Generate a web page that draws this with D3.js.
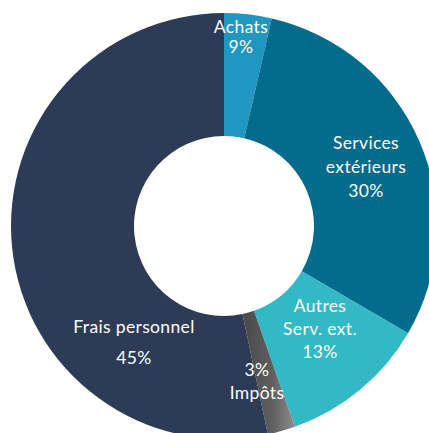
<!DOCTYPE html>
<html><head><meta charset="utf-8">
<script src="https://cdn.jsdelivr.net/npm/d3@7"></script>
<style>html,body{margin:0;padding:0;background:#fff;overflow:hidden}</style>
</head><body>
<svg id="c" width="429" height="433"></svg>
<script>
// Categories, slice shares (as drawn) and printed percentage labels
const categories = ["Achats", "Services extérieurs", "Autres Serv. ext.", "Impôts", "Frais personnel"];
const shares = [3.6, 29.8, 11.2, 2.1, 53.3];
const pctLabels = ["9%", "30%", "13%", "3%", "45%"];
const colors = ["#2096c2", "#036b8b", "#33b8c6", "url(#gImp)", "#2d3b56"];

const svg = d3.select("#c");
const cx = 224, cy = 226, rOuter = 213, rInner = 90;

const defs = svg.append("defs");
const g1 = defs.append("linearGradient").attr("id", "gImp")
  .attr("x1", "0").attr("x2", "1").attr("y1", "0").attr("y2", "0");
g1.append("stop").attr("offset", "0").attr("stop-color", "#4a4a4a");
g1.append("stop").attr("offset", "0.55").attr("stop-color", "#5e5e5e");
g1.append("stop").attr("offset", "1").attr("stop-color", "#8c8c8c");

const pie = d3.pie().sort(null).value(d => d);
const arc = d3.arc().innerRadius(rInner).outerRadius(rOuter);
const arcs = pie(shares);

const g = svg.append("g").attr("transform", `translate(${cx},${cy})`);
g.selectAll("path").data(arcs).enter().append("path")
  .attr("d", arc)
  .attr("fill", (d, i) => colors[i]);

// label layout: lines and offsets relative to center (layout only)
const labelLines = [
  ["Achats", pctLabels[0]],
  ["Services", "extérieurs", pctLabels[1]],
  ["Autres", "Serv. ext.", pctLabels[2]],
  [pctLabels[3], "Impôts"],
  ["Frais personnel", pctLabels[4]]
];
const labelPos = [
  {x: 17, y: -193, dy: 20},
  {x: 142, y: -77, dy: 24},
  {x: 96, y: 86, dy: 23},
  {x: 33, y: 150, dy: 23},
  {x: -90, y: 107, dy: 31}
];
const font = "Lato, 'Open Sans', sans-serif";
labelLines.forEach((lines, i) => {
  const p = labelPos[i];
  lines.forEach((t, j) => {
    g.append("text")
      .attr("x", p.x).attr("y", p.y + j * p.dy)
      .attr("text-anchor", "middle")
      .attr("fill", "#ffffff")
      .style("font-family", font)
      .style("font-size", "17.5px")
      .style("letter-spacing", "0.35px")
      .text(t);
  });
});
</script>
</body></html>
